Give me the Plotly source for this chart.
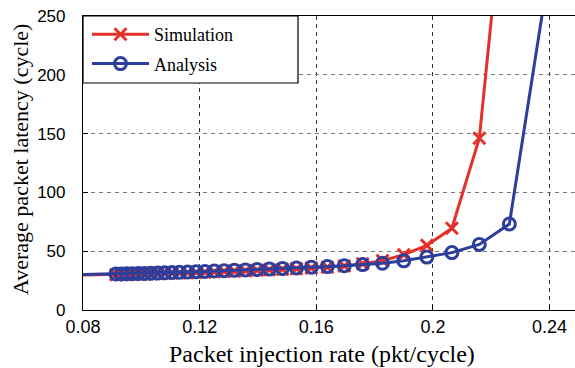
import plotly.graph_objects as go

# Injection rates (pkt/cycle); the first point lies left of the visible axis range
injection_rate = [0.0600, 0.0913, 0.0931, 0.0950, 0.0969, 0.0990, 0.1011, 0.1033, 0.1056,
                  0.1080, 0.1105, 0.1131, 0.1159, 0.1188, 0.1218, 0.1250, 0.1284, 0.1319,
                  0.1357, 0.1397, 0.1439, 0.1484, 0.1532, 0.1583, 0.1638, 0.1696, 0.1759,
                  0.1827, 0.1900, 0.1979, 0.2065, 0.2159, 0.2262, 0.2385]

# Average packet latency (cycle)
analysis_latency = [29.0, 30.6, 30.7, 30.8, 30.9, 31.0, 31.1, 31.3, 31.5,
                    31.7, 31.9, 32.1, 32.3, 32.6, 32.8, 33.1, 33.4, 33.7,
                    34.0, 34.4, 34.8, 35.2, 35.7, 36.3, 36.9, 37.6, 38.6,
                    39.8, 41.8, 45.0, 48.8, 55.8, 73.1, 268.0]

simulation_latency = [28.6, 30.0, 30.1, 30.2, 30.3, 30.4, 30.5, 30.7, 30.9,
                      31.1, 31.3, 31.5, 31.7, 32.0, 32.2, 32.5, 32.8, 33.1,
                      33.4, 33.8, 34.2, 34.6, 35.1, 35.7, 36.4, 37.4, 39.3,
                      42.0, 47.0, 55.0, 69.5, 146.0, 400.0]

x_ticks = [0.08, 0.12, 0.16, 0.20, 0.24]
x_tick_text = ["0.08", "0.12", "0.16", "0.2", "0.24"]
y_ticks = [0, 50, 100, 150, 200, 250]

RED = "#E5312B"
BLUE = "#2D3E9C"
SERIF = "Liberation Serif, Times New Roman, serif"
SANS = "Liberation Sans, Arial, Helvetica, sans-serif"

fig = go.Figure()

fig.add_trace(go.Scatter(
    x=injection_rate[:len(simulation_latency)], y=simulation_latency,
    name="Simulation", legendgroup="sim", mode="lines+markers",
    line=dict(color=RED, width=3),
    marker=dict(symbol="x-thin", size=12, color=RED,
                line=dict(color=RED, width=3)),
    cliponaxis=True,
))

fig.add_trace(go.Scatter(
    x=injection_rate, y=analysis_latency,
    name="Analysis", legendgroup="ana", mode="lines+markers",
    line=dict(color=BLUE, width=3),
    marker=dict(symbol="circle-open", size=12, color=BLUE,
                line=dict(color=BLUE, width=3)),
    cliponaxis=True,
))

W, H = 575, 368
L, R, T, B = 83, 0, 16, 58
plot_w = W - L - R
plot_h = H - T - B
x_per_px = (0.24 - 0.08) / (549.3 - 82.7)
x_max = 0.08 + plot_w * x_per_px

# legend frame (wider than plotly's auto-sized legend box)
legend_w_px, legend_h_px = 215, 67

fig.update_layout(
    width=W, height=H,
    margin=dict(l=L, r=R, t=T, b=B, pad=0),
    paper_bgcolor="white", plot_bgcolor="white",
    showlegend=True,
    legend=dict(
        x=4 / plot_w, y=1, xanchor="left", yanchor="top",
        bgcolor="rgba(0,0,0,0)", borderwidth=0,
        font=dict(family=SERIF, size=18, color="black"),
        itemwidth=57, tracegroupgap=3,
    ),
    shapes=[
        dict(type="rect", xref="paper", yref="paper", layer="above",
             x0=0, x1=legend_w_px / plot_w, y0=1 - legend_h_px / plot_h, y1=1,
             fillcolor="white", line=dict(color="black", width=1.2)),
    ],
    xaxis=dict(
        range=[0.08, x_max],
        tickvals=x_ticks, ticktext=x_tick_text,
        ticks="inside", ticklen=5, tickcolor="black",
        showline=True, linecolor="black", linewidth=1.2, mirror=True,
        showgrid=True, gridcolor="#333", griddash="4px,4px", gridwidth=1,
        zeroline=False,
        tickfont=dict(family=SANS, size=18, color="black"),
    ),
    yaxis=dict(
        range=[0, 250],
        tickvals=y_ticks,
        ticks="inside", ticklen=5, tickcolor="black",
        showline=True, linecolor="black", linewidth=1.2, mirror=False,
        showgrid=True, gridcolor="#777", griddash="4px,4px", gridwidth=1,
        zeroline=False,
        ticklabelstandoff=13,
        tickfont=dict(family=SANS, size=17, color="black"),
    ),
    annotations=[
        dict(text="Packet injection rate (pkt/cycle)", xref="paper", yref="paper",
             x=(322 - L) / plot_w, y=-(354 - (H - B)) / plot_h,
             xanchor="center", yanchor="middle", showarrow=False,
             font=dict(family=SERIF, size=24, color="black")),
        dict(text="Average packet latency (cycle)", xref="paper", yref="paper",
             x=-(L - 20) / plot_w, y=((H - B) - 160) / plot_h,
             xanchor="center", yanchor="middle", showarrow=False, textangle=-90,
             font=dict(family=SERIF, size=22, color="black")),
    ],
)

fig.write_html("out.html")
